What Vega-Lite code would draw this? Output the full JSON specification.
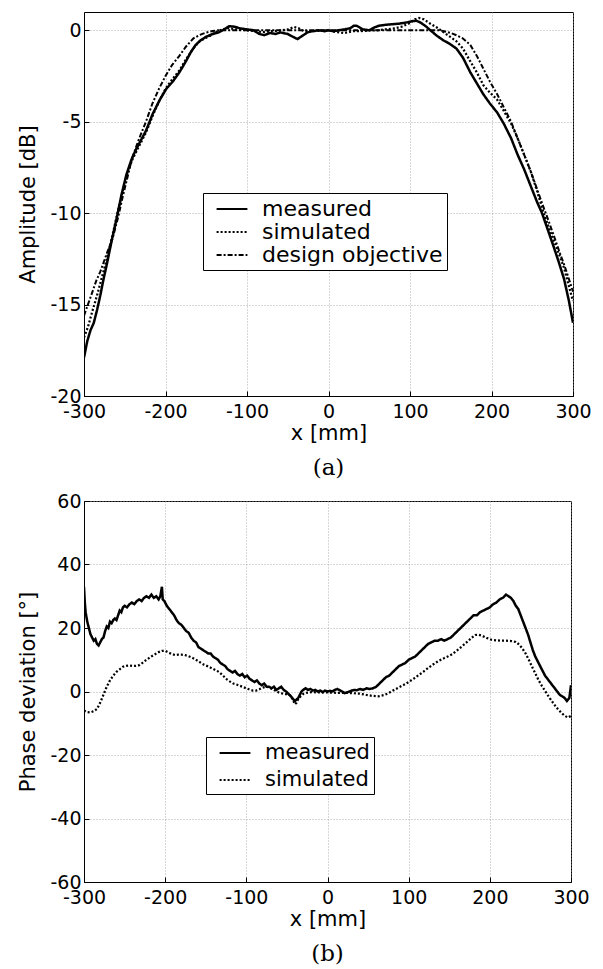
{
  "$schema": "https://vega.github.io/schema/vega-lite/v6.json",
  "background": "white",
  "padding": {"left": 17, "top": 11, "right": 0, "bottom": 0},
  "spacing": 10,
  "config": {
    "view": {"stroke": "black", "strokeWidth": 1},
    "axis": {
      "labelFont": "DejaVu Sans", "labelFontSize": 19, "labelColor": "black",
      "titleFont": "DejaVu Sans", "titleFontSize": 21, "titleFontWeight": "normal", "titleColor": "black",
      "domainColor": "black", "tickColor": "black", "tickSize": -5, "labelPadding": 11,
      "gridColor": "#999", "gridDash": [1, 2], "gridWidth": 0.8
    },
    "axisY": {"labelPadding": 8},
    "title": {"font": "DejaVu Serif", "fontSize": 23, "fontWeight": "normal", "color": "black", "orient": "bottom", "offset": 14},
    "legend": {
      "orient": "none", "title": null, "strokeColor": "black", "fillColor": "white",
      "padding": 4, "symbolType": "M-1.4,0H1.4", "symbolSize": 484, "symbolStrokeWidth": 2,
      "symbolStrokeColor": "black", "symbolFillColor": "transparent", "symbolOffset": 13, "labelFont": "DejaVu Sans", "labelColor": "black", "labelOffset": 18, "labelLimit": 400,
      "labelExpr": "datum.label + '\u00a0\u00a0'"
    }
  },
  "resolve": {"scale": {"strokeDash": "independent"}, "legend": {"strokeDash": "independent"}},
  "datasets": {
    "amp": [
      {"x":-300,"y":-17.9,"s":"measured"},{"x":-296,"y":-17.0,"s":"measured"},{"x":-292,"y":-16.4,"s":"measured"},{"x":-288,"y":-16.0,"s":"measured"},{"x":-284,"y":-15.3,"s":"measured"},{"x":-280,"y":-14.5,"s":"measured"},{"x":-276,"y":-13.6,"s":"measured"},{"x":-272,"y":-12.8,"s":"measured"},{"x":-266,"y":-11.5,"s":"measured"},{"x":-260,"y":-10.3,"s":"measured"},{"x":-254,"y":-9.0,"s":"measured"},{"x":-248,"y":-7.9,"s":"measured"},{"x":-242,"y":-7.1,"s":"measured"},{"x":-236,"y":-6.5,"s":"measured"},{"x":-230,"y":-6.0,"s":"measured"},{"x":-224,"y":-5.5,"s":"measured"},{"x":-216,"y":-4.6,"s":"measured"},{"x":-207,"y":-3.8,"s":"measured"},{"x":-199,"y":-3.2,"s":"measured"},{"x":-191,"y":-2.8,"s":"measured"},{"x":-183,"y":-2.3,"s":"measured"},{"x":-175,"y":-1.7,"s":"measured"},{"x":-169,"y":-1.2,"s":"measured"},{"x":-163,"y":-0.8,"s":"measured"},{"x":-157,"y":-0.55,"s":"measured"},{"x":-150,"y":-0.35,"s":"measured"},{"x":-142,"y":-0.2,"s":"measured"},{"x":-134,"y":-0.1,"s":"measured"},{"x":-128,"y":0.05,"s":"measured"},{"x":-122,"y":0.22,"s":"measured"},{"x":-116,"y":0.2,"s":"measured"},{"x":-108,"y":0.1,"s":"measured"},{"x":-100,"y":0.05,"s":"measured"},{"x":-92,"y":0.0,"s":"measured"},{"x":-85,"y":-0.2,"s":"measured"},{"x":-79,"y":-0.27,"s":"measured"},{"x":-72,"y":-0.15,"s":"measured"},{"x":-65,"y":-0.2,"s":"measured"},{"x":-59,"y":-0.12,"s":"measured"},{"x":-50,"y":-0.2,"s":"measured"},{"x":-44,"y":-0.35,"s":"measured"},{"x":-38,"y":-0.48,"s":"measured"},{"x":-32,"y":-0.3,"s":"measured"},{"x":-26,"y":-0.12,"s":"measured"},{"x":-20,"y":-0.05,"s":"measured"},{"x":-12,"y":0.0,"s":"measured"},{"x":-5,"y":-0.05,"s":"measured"},{"x":0,"y":0.0,"s":"measured"},{"x":6,"y":-0.05,"s":"measured"},{"x":12,"y":0.0,"s":"measured"},{"x":20,"y":0.05,"s":"measured"},{"x":27,"y":0.12,"s":"measured"},{"x":31,"y":0.25,"s":"measured"},{"x":35,"y":0.24,"s":"measured"},{"x":42,"y":0.05,"s":"measured"},{"x":50,"y":0.0,"s":"measured"},{"x":56,"y":0.15,"s":"measured"},{"x":62,"y":0.25,"s":"measured"},{"x":70,"y":0.3,"s":"measured"},{"x":78,"y":0.33,"s":"measured"},{"x":86,"y":0.36,"s":"measured"},{"x":95,"y":0.42,"s":"measured"},{"x":103,"y":0.5,"s":"measured"},{"x":108,"y":0.52,"s":"measured"},{"x":113,"y":0.42,"s":"measured"},{"x":120,"y":0.2,"s":"measured"},{"x":125,"y":0.0,"s":"measured"},{"x":133,"y":-0.3,"s":"measured"},{"x":141,"y":-0.55,"s":"measured"},{"x":149,"y":-0.75,"s":"measured"},{"x":157,"y":-1.0,"s":"measured"},{"x":165,"y":-1.5,"s":"measured"},{"x":174,"y":-2.3,"s":"measured"},{"x":182,"y":-2.9,"s":"measured"},{"x":190,"y":-3.5,"s":"measured"},{"x":198,"y":-4.0,"s":"measured"},{"x":207,"y":-4.5,"s":"measured"},{"x":215,"y":-5.1,"s":"measured"},{"x":224,"y":-5.9,"s":"measured"},{"x":232,"y":-6.8,"s":"measured"},{"x":240,"y":-7.6,"s":"measured"},{"x":248,"y":-8.5,"s":"measured"},{"x":256,"y":-9.4,"s":"measured"},{"x":262,"y":-10.0,"s":"measured"},{"x":269,"y":-10.9,"s":"measured"},{"x":276,"y":-11.8,"s":"measured"},{"x":282,"y":-12.6,"s":"measured"},{"x":289,"y":-13.6,"s":"measured"},{"x":295,"y":-14.8,"s":"measured"},{"x":300,"y":-16.0,"s":"measured"},
      {"x":-300,"y":-16.8,"s":"simulated"},{"x":-295,"y":-16.2,"s":"simulated"},{"x":-290,"y":-15.4,"s":"simulated"},{"x":-284,"y":-14.5,"s":"simulated"},{"x":-278,"y":-13.5,"s":"simulated"},{"x":-272,"y":-12.5,"s":"simulated"},{"x":-265,"y":-11.2,"s":"simulated"},{"x":-258,"y":-9.8,"s":"simulated"},{"x":-252,"y":-8.7,"s":"simulated"},{"x":-246,"y":-7.7,"s":"simulated"},{"x":-240,"y":-7.0,"s":"simulated"},{"x":-232,"y":-6.3,"s":"simulated"},{"x":-224,"y":-5.6,"s":"simulated"},{"x":-216,"y":-4.7,"s":"simulated"},{"x":-208,"y":-3.9,"s":"simulated"},{"x":-200,"y":-3.2,"s":"simulated"},{"x":-192,"y":-2.7,"s":"simulated"},{"x":-183,"y":-2.2,"s":"simulated"},{"x":-175,"y":-1.6,"s":"simulated"},{"x":-166,"y":-1.0,"s":"simulated"},{"x":-158,"y":-0.6,"s":"simulated"},{"x":-150,"y":-0.4,"s":"simulated"},{"x":-145,"y":-0.3,"s":"simulated"},{"x":-138,"y":-0.1,"s":"simulated"},{"x":-130,"y":0.05,"s":"simulated"},{"x":-122,"y":0.12,"s":"simulated"},{"x":-114,"y":0.05,"s":"simulated"},{"x":-100,"y":0.0,"s":"simulated"},{"x":-90,"y":-0.05,"s":"simulated"},{"x":-80,"y":-0.1,"s":"simulated"},{"x":-70,"y":-0.05,"s":"simulated"},{"x":-60,"y":-0.02,"s":"simulated"},{"x":-50,"y":0.05,"s":"simulated"},{"x":-42,"y":0.18,"s":"simulated"},{"x":-36,"y":0.1,"s":"simulated"},{"x":-30,"y":-0.05,"s":"simulated"},{"x":-20,"y":-0.05,"s":"simulated"},{"x":-10,"y":-0.03,"s":"simulated"},{"x":0,"y":0.0,"s":"simulated"},{"x":10,"y":-0.1,"s":"simulated"},{"x":20,"y":-0.15,"s":"simulated"},{"x":30,"y":-0.05,"s":"simulated"},{"x":40,"y":-0.05,"s":"simulated"},{"x":50,"y":0.0,"s":"simulated"},{"x":60,"y":0.0,"s":"simulated"},{"x":70,"y":0.05,"s":"simulated"},{"x":80,"y":0.1,"s":"simulated"},{"x":90,"y":0.2,"s":"simulated"},{"x":100,"y":0.4,"s":"simulated"},{"x":106,"y":0.6,"s":"simulated"},{"x":111,"y":0.67,"s":"simulated"},{"x":117,"y":0.6,"s":"simulated"},{"x":125,"y":0.36,"s":"simulated"},{"x":133,"y":0.15,"s":"simulated"},{"x":141,"y":-0.1,"s":"simulated"},{"x":149,"y":-0.35,"s":"simulated"},{"x":157,"y":-0.6,"s":"simulated"},{"x":165,"y":-1.0,"s":"simulated"},{"x":174,"y":-1.7,"s":"simulated"},{"x":182,"y":-2.3,"s":"simulated"},{"x":190,"y":-3.0,"s":"simulated"},{"x":198,"y":-3.4,"s":"simulated"},{"x":207,"y":-3.8,"s":"simulated"},{"x":215,"y":-4.4,"s":"simulated"},{"x":224,"y":-5.1,"s":"simulated"},{"x":232,"y":-5.9,"s":"simulated"},{"x":240,"y":-6.8,"s":"simulated"},{"x":248,"y":-7.7,"s":"simulated"},{"x":256,"y":-8.8,"s":"simulated"},{"x":264,"y":-10.0,"s":"simulated"},{"x":272,"y":-11.0,"s":"simulated"},{"x":280,"y":-11.9,"s":"simulated"},{"x":289,"y":-13.0,"s":"simulated"},{"x":295,"y":-14.0,"s":"simulated"},{"x":300,"y":-14.8,"s":"simulated"},
      {"x":-300,"y":-15.6,"s":"design objective"},{"x":-292,"y":-14.6,"s":"design objective"},{"x":-285,"y":-13.7,"s":"design objective"},{"x":-280,"y":-13.2,"s":"design objective"},{"x":-272,"y":-12.2,"s":"design objective"},{"x":-265,"y":-11.4,"s":"design objective"},{"x":-258,"y":-10.2,"s":"design objective"},{"x":-253,"y":-9.2,"s":"design objective"},{"x":-247,"y":-8.1,"s":"design objective"},{"x":-241,"y":-7.0,"s":"design objective"},{"x":-233,"y":-6.0,"s":"design objective"},{"x":-224,"y":-5.0,"s":"design objective"},{"x":-216,"y":-4.0,"s":"design objective"},{"x":-208,"y":-3.2,"s":"design objective"},{"x":-200,"y":-2.5,"s":"design objective"},{"x":-192,"y":-1.9,"s":"design objective"},{"x":-183,"y":-1.4,"s":"design objective"},{"x":-175,"y":-0.9,"s":"design objective"},{"x":-166,"y":-0.45,"s":"design objective"},{"x":-158,"y":-0.25,"s":"design objective"},{"x":-150,"y":-0.12,"s":"design objective"},{"x":-142,"y":-0.04,"s":"design objective"},{"x":-136,"y":0,"s":"design objective"},{"x":136,"y":0,"s":"design objective"},{"x":142,"y":-0.05,"s":"design objective"},{"x":150,"y":-0.15,"s":"design objective"},{"x":157,"y":-0.27,"s":"design objective"},{"x":165,"y":-0.45,"s":"design objective"},{"x":174,"y":-0.8,"s":"design objective"},{"x":182,"y":-1.4,"s":"design objective"},{"x":190,"y":-2.1,"s":"design objective"},{"x":198,"y":-2.8,"s":"design objective"},{"x":207,"y":-3.5,"s":"design objective"},{"x":215,"y":-4.2,"s":"design objective"},{"x":224,"y":-5.0,"s":"design objective"},{"x":232,"y":-5.9,"s":"design objective"},{"x":240,"y":-6.8,"s":"design objective"},{"x":248,"y":-7.7,"s":"design objective"},{"x":256,"y":-8.7,"s":"design objective"},{"x":264,"y":-9.7,"s":"design objective"},{"x":269,"y":-10.3,"s":"design objective"},{"x":277,"y":-11.3,"s":"design objective"},{"x":284,"y":-12.2,"s":"design objective"},{"x":289,"y":-12.8,"s":"design objective"},{"x":295,"y":-13.6,"s":"design objective"},{"x":300,"y":-14.3,"s":"design objective"}
    ],
    "phase": [
      {"x":-300,"y":33,"s":"measured"},{"x":-299,"y":28,"s":"measured"},{"x":-298,"y":25,"s":"measured"},{"x":-296,"y":22,"s":"measured"},{"x":-294,"y":20,"s":"measured"},{"x":-292,"y":18,"s":"measured"},{"x":-290,"y":17,"s":"measured"},{"x":-288,"y":16,"s":"measured"},{"x":-286,"y":16.5,"s":"measured"},{"x":-284,"y":15,"s":"measured"},{"x":-282,"y":14.5,"s":"measured"},{"x":-280,"y":15.5,"s":"measured"},{"x":-278,"y":16.5,"s":"measured"},{"x":-276,"y":17,"s":"measured"},{"x":-274,"y":19,"s":"measured"},{"x":-272,"y":20.5,"s":"measured"},{"x":-270,"y":20,"s":"measured"},{"x":-268,"y":22,"s":"measured"},{"x":-266,"y":21.5,"s":"measured"},{"x":-264,"y":22.5,"s":"measured"},{"x":-262,"y":23,"s":"measured"},{"x":-260,"y":22.5,"s":"measured"},{"x":-258,"y":24,"s":"measured"},{"x":-256,"y":25.5,"s":"measured"},{"x":-254,"y":25,"s":"measured"},{"x":-252,"y":26.5,"s":"measured"},{"x":-250,"y":27,"s":"measured"},{"x":-247,"y":26.5,"s":"measured"},{"x":-244,"y":27.5,"s":"measured"},{"x":-241,"y":28,"s":"measured"},{"x":-238,"y":27.5,"s":"measured"},{"x":-235,"y":28.5,"s":"measured"},{"x":-232,"y":29,"s":"measured"},{"x":-229,"y":28.5,"s":"measured"},{"x":-226,"y":29.5,"s":"measured"},{"x":-223,"y":30,"s":"measured"},{"x":-220,"y":29.5,"s":"measured"},{"x":-217,"y":30.5,"s":"measured"},{"x":-214,"y":29.5,"s":"measured"},{"x":-211,"y":30,"s":"measured"},{"x":-208,"y":29,"s":"measured"},{"x":-206,"y":30,"s":"measured"},{"x":-204,"y":33,"s":"measured"},{"x":-203,"y":29,"s":"measured"},{"x":-201,"y":28.5,"s":"measured"},{"x":-198,"y":27,"s":"measured"},{"x":-195,"y":26,"s":"measured"},{"x":-192,"y":25,"s":"measured"},{"x":-189,"y":24,"s":"measured"},{"x":-186,"y":22.5,"s":"measured"},{"x":-183,"y":21.5,"s":"measured"},{"x":-180,"y":21,"s":"measured"},{"x":-177,"y":20,"s":"measured"},{"x":-174,"y":19,"s":"measured"},{"x":-171,"y":18.5,"s":"measured"},{"x":-168,"y":17,"s":"measured"},{"x":-165,"y":16,"s":"measured"},{"x":-162,"y":15.5,"s":"measured"},{"x":-159,"y":14,"s":"measured"},{"x":-156,"y":13.5,"s":"measured"},{"x":-153,"y":13,"s":"measured"},{"x":-150,"y":12.5,"s":"measured"},{"x":-147,"y":12,"s":"measured"},{"x":-144,"y":12,"s":"measured"},{"x":-141,"y":11,"s":"measured"},{"x":-138,"y":10.5,"s":"measured"},{"x":-135,"y":10,"s":"measured"},{"x":-132,"y":9,"s":"measured"},{"x":-129,"y":8.5,"s":"measured"},{"x":-126,"y":8,"s":"measured"},{"x":-123,"y":7,"s":"measured"},{"x":-120,"y":6.5,"s":"measured"},{"x":-117,"y":6,"s":"measured"},{"x":-114,"y":6.5,"s":"measured"},{"x":-111,"y":5.5,"s":"measured"},{"x":-108,"y":5,"s":"measured"},{"x":-105,"y":5.5,"s":"measured"},{"x":-102,"y":4.5,"s":"measured"},{"x":-99,"y":5,"s":"measured"},{"x":-96,"y":4,"s":"measured"},{"x":-93,"y":3.5,"s":"measured"},{"x":-90,"y":3,"s":"measured"},{"x":-87,"y":3.5,"s":"measured"},{"x":-84,"y":2.5,"s":"measured"},{"x":-81,"y":2,"s":"measured"},{"x":-78,"y":2.5,"s":"measured"},{"x":-75,"y":1.5,"s":"measured"},{"x":-72,"y":1.5,"s":"measured"},{"x":-69,"y":1,"s":"measured"},{"x":-66,"y":1.5,"s":"measured"},{"x":-63,"y":0.5,"s":"measured"},{"x":-60,"y":1,"s":"measured"},{"x":-57,"y":1.5,"s":"measured"},{"x":-54,"y":0.5,"s":"measured"},{"x":-51,"y":0,"s":"measured"},{"x":-48,"y":-0.8,"s":"measured"},{"x":-45,"y":-1.5,"s":"measured"},{"x":-42,"y":-2.5,"s":"measured"},{"x":-40,"y":-3,"s":"measured"},{"x":-38,"y":-2.5,"s":"measured"},{"x":-36,"y":-2,"s":"measured"},{"x":-34,"y":-1,"s":"measured"},{"x":-32,"y":0,"s":"measured"},{"x":-30,"y":0.5,"s":"measured"},{"x":-27,"y":1,"s":"measured"},{"x":-24,"y":0.5,"s":"measured"},{"x":-21,"y":0.8,"s":"measured"},{"x":-18,"y":0.3,"s":"measured"},{"x":-15,"y":0.5,"s":"measured"},{"x":-12,"y":0,"s":"measured"},{"x":-9,"y":0.3,"s":"measured"},{"x":-6,"y":-0.2,"s":"measured"},{"x":-3,"y":0.3,"s":"measured"},{"x":0,"y":0,"s":"measured"},{"x":3,"y":0.2,"s":"measured"},{"x":6,"y":0,"s":"measured"},{"x":9,"y":0.5,"s":"measured"},{"x":12,"y":0.8,"s":"measured"},{"x":15,"y":0.4,"s":"measured"},{"x":18,"y":0,"s":"measured"},{"x":21,"y":-0.5,"s":"measured"},{"x":24,"y":-0.3,"s":"measured"},{"x":27,"y":0,"s":"measured"},{"x":30,"y":0.3,"s":"measured"},{"x":33,"y":0.5,"s":"measured"},{"x":36,"y":0.4,"s":"measured"},{"x":40,"y":0.8,"s":"measured"},{"x":44,"y":0.5,"s":"measured"},{"x":48,"y":1,"s":"measured"},{"x":52,"y":0.8,"s":"measured"},{"x":56,"y":1,"s":"measured"},{"x":60,"y":1.5,"s":"measured"},{"x":64,"y":2.5,"s":"measured"},{"x":68,"y":3.5,"s":"measured"},{"x":72,"y":4.5,"s":"measured"},{"x":76,"y":5,"s":"measured"},{"x":80,"y":6,"s":"measured"},{"x":84,"y":7,"s":"measured"},{"x":88,"y":8,"s":"measured"},{"x":92,"y":8.5,"s":"measured"},{"x":96,"y":9,"s":"measured"},{"x":100,"y":10,"s":"measured"},{"x":104,"y":10.5,"s":"measured"},{"x":108,"y":11,"s":"measured"},{"x":112,"y":12,"s":"measured"},{"x":116,"y":13,"s":"measured"},{"x":120,"y":14,"s":"measured"},{"x":124,"y":15,"s":"measured"},{"x":128,"y":15.5,"s":"measured"},{"x":132,"y":16,"s":"measured"},{"x":136,"y":16,"s":"measured"},{"x":140,"y":16.5,"s":"measured"},{"x":144,"y":16,"s":"measured"},{"x":148,"y":16.5,"s":"measured"},{"x":152,"y":17,"s":"measured"},{"x":156,"y":18,"s":"measured"},{"x":160,"y":19,"s":"measured"},{"x":164,"y":20,"s":"measured"},{"x":168,"y":21,"s":"measured"},{"x":172,"y":22,"s":"measured"},{"x":176,"y":23,"s":"measured"},{"x":180,"y":24,"s":"measured"},{"x":184,"y":24,"s":"measured"},{"x":188,"y":25,"s":"measured"},{"x":192,"y":25.5,"s":"measured"},{"x":196,"y":26,"s":"measured"},{"x":200,"y":26.5,"s":"measured"},{"x":204,"y":27.5,"s":"measured"},{"x":208,"y":28,"s":"measured"},{"x":212,"y":29,"s":"measured"},{"x":216,"y":29.5,"s":"measured"},{"x":220,"y":30.5,"s":"measured"},{"x":223,"y":30,"s":"measured"},{"x":226,"y":29.5,"s":"measured"},{"x":229,"y":28.5,"s":"measured"},{"x":232,"y":27,"s":"measured"},{"x":235,"y":26,"s":"measured"},{"x":238,"y":24,"s":"measured"},{"x":241,"y":22,"s":"measured"},{"x":244,"y":20,"s":"measured"},{"x":247,"y":18,"s":"measured"},{"x":250,"y":15.5,"s":"measured"},{"x":253,"y":13,"s":"measured"},{"x":256,"y":11,"s":"measured"},{"x":259,"y":9.5,"s":"measured"},{"x":262,"y":8,"s":"measured"},{"x":265,"y":6.5,"s":"measured"},{"x":268,"y":5,"s":"measured"},{"x":271,"y":4,"s":"measured"},{"x":274,"y":3,"s":"measured"},{"x":277,"y":2,"s":"measured"},{"x":280,"y":1,"s":"measured"},{"x":283,"y":0,"s":"measured"},{"x":286,"y":-1,"s":"measured"},{"x":289,"y":-1.5,"s":"measured"},{"x":292,"y":-2,"s":"measured"},{"x":295,"y":-3,"s":"measured"},{"x":298,"y":-2,"s":"measured"},{"x":299,"y":0,"s":"measured"},{"x":300,"y":2,"s":"measured"},
      {"x":-300,"y":-6,"s":"simulated"},{"x":-296,"y":-6.5,"s":"simulated"},{"x":-292,"y":-6.6,"s":"simulated"},{"x":-288,"y":-6.2,"s":"simulated"},{"x":-284,"y":-5.5,"s":"simulated"},{"x":-280,"y":-3.5,"s":"simulated"},{"x":-276,"y":-1,"s":"simulated"},{"x":-272,"y":1.5,"s":"simulated"},{"x":-268,"y":3.5,"s":"simulated"},{"x":-264,"y":5,"s":"simulated"},{"x":-260,"y":6.2,"s":"simulated"},{"x":-256,"y":7,"s":"simulated"},{"x":-252,"y":7.8,"s":"simulated"},{"x":-248,"y":8.1,"s":"simulated"},{"x":-244,"y":8.2,"s":"simulated"},{"x":-240,"y":8,"s":"simulated"},{"x":-236,"y":8.1,"s":"simulated"},{"x":-232,"y":8.3,"s":"simulated"},{"x":-228,"y":9,"s":"simulated"},{"x":-224,"y":9.8,"s":"simulated"},{"x":-220,"y":10.5,"s":"simulated"},{"x":-216,"y":11.2,"s":"simulated"},{"x":-212,"y":11.8,"s":"simulated"},{"x":-208,"y":12.4,"s":"simulated"},{"x":-204,"y":12.8,"s":"simulated"},{"x":-200,"y":12.8,"s":"simulated"},{"x":-196,"y":12.3,"s":"simulated"},{"x":-192,"y":11.8,"s":"simulated"},{"x":-188,"y":11.5,"s":"simulated"},{"x":-184,"y":11.6,"s":"simulated"},{"x":-180,"y":11.6,"s":"simulated"},{"x":-176,"y":11.5,"s":"simulated"},{"x":-172,"y":11.2,"s":"simulated"},{"x":-168,"y":10.8,"s":"simulated"},{"x":-164,"y":10.3,"s":"simulated"},{"x":-160,"y":9.7,"s":"simulated"},{"x":-156,"y":9,"s":"simulated"},{"x":-152,"y":8.4,"s":"simulated"},{"x":-148,"y":8,"s":"simulated"},{"x":-144,"y":7.5,"s":"simulated"},{"x":-140,"y":7,"s":"simulated"},{"x":-136,"y":6.5,"s":"simulated"},{"x":-132,"y":5.8,"s":"simulated"},{"x":-128,"y":4.8,"s":"simulated"},{"x":-124,"y":3.8,"s":"simulated"},{"x":-120,"y":3.1,"s":"simulated"},{"x":-116,"y":2.5,"s":"simulated"},{"x":-112,"y":2.2,"s":"simulated"},{"x":-108,"y":1.8,"s":"simulated"},{"x":-104,"y":1.4,"s":"simulated"},{"x":-100,"y":1,"s":"simulated"},{"x":-96,"y":0.6,"s":"simulated"},{"x":-92,"y":0.3,"s":"simulated"},{"x":-88,"y":0.3,"s":"simulated"},{"x":-84,"y":0.7,"s":"simulated"},{"x":-80,"y":1.2,"s":"simulated"},{"x":-76,"y":1.5,"s":"simulated"},{"x":-72,"y":1.3,"s":"simulated"},{"x":-68,"y":0.8,"s":"simulated"},{"x":-64,"y":0.2,"s":"simulated"},{"x":-60,"y":-0.3,"s":"simulated"},{"x":-56,"y":-0.6,"s":"simulated"},{"x":-52,"y":-0.8,"s":"simulated"},{"x":-48,"y":-0.8,"s":"simulated"},{"x":-45,"y":-1.5,"s":"simulated"},{"x":-42,"y":-3,"s":"simulated"},{"x":-40,"y":-4,"s":"simulated"},{"x":-38,"y":-3.5,"s":"simulated"},{"x":-36,"y":-2.3,"s":"simulated"},{"x":-33,"y":-1.5,"s":"simulated"},{"x":-30,"y":-0.8,"s":"simulated"},{"x":-26,"y":-0.4,"s":"simulated"},{"x":-20,"y":-0.2,"s":"simulated"},{"x":-10,"y":-0.3,"s":"simulated"},{"x":0,"y":-0.3,"s":"simulated"},{"x":10,"y":-0.4,"s":"simulated"},{"x":20,"y":-0.4,"s":"simulated"},{"x":30,"y":-0.5,"s":"simulated"},{"x":40,"y":-0.7,"s":"simulated"},{"x":48,"y":-1.1,"s":"simulated"},{"x":56,"y":-1.4,"s":"simulated"},{"x":63,"y":-1.5,"s":"simulated"},{"x":70,"y":-1.1,"s":"simulated"},{"x":76,"y":-0.4,"s":"simulated"},{"x":82,"y":0.5,"s":"simulated"},{"x":88,"y":1.3,"s":"simulated"},{"x":94,"y":2.1,"s":"simulated"},{"x":100,"y":3,"s":"simulated"},{"x":106,"y":4,"s":"simulated"},{"x":112,"y":5.1,"s":"simulated"},{"x":118,"y":6.2,"s":"simulated"},{"x":124,"y":7.4,"s":"simulated"},{"x":130,"y":8.5,"s":"simulated"},{"x":136,"y":9.5,"s":"simulated"},{"x":142,"y":10.3,"s":"simulated"},{"x":148,"y":11,"s":"simulated"},{"x":154,"y":11.8,"s":"simulated"},{"x":160,"y":13,"s":"simulated"},{"x":166,"y":14.3,"s":"simulated"},{"x":172,"y":15.6,"s":"simulated"},{"x":178,"y":17,"s":"simulated"},{"x":182,"y":17.8,"s":"simulated"},{"x":186,"y":17.9,"s":"simulated"},{"x":190,"y":17.6,"s":"simulated"},{"x":196,"y":16.9,"s":"simulated"},{"x":202,"y":16.3,"s":"simulated"},{"x":208,"y":16.1,"s":"simulated"},{"x":214,"y":16,"s":"simulated"},{"x":220,"y":16,"s":"simulated"},{"x":226,"y":15.9,"s":"simulated"},{"x":232,"y":15.6,"s":"simulated"},{"x":236,"y":14.8,"s":"simulated"},{"x":240,"y":13.6,"s":"simulated"},{"x":244,"y":12,"s":"simulated"},{"x":248,"y":10,"s":"simulated"},{"x":252,"y":7.8,"s":"simulated"},{"x":256,"y":5.7,"s":"simulated"},{"x":260,"y":3.6,"s":"simulated"},{"x":264,"y":1.8,"s":"simulated"},{"x":268,"y":0.2,"s":"simulated"},{"x":272,"y":-1.4,"s":"simulated"},{"x":276,"y":-2.9,"s":"simulated"},{"x":280,"y":-4.3,"s":"simulated"},{"x":284,"y":-5.6,"s":"simulated"},{"x":288,"y":-6.7,"s":"simulated"},{"x":292,"y":-7.6,"s":"simulated"},{"x":296,"y":-8.2,"s":"simulated"},{"x":300,"y":-7.7,"s":"simulated"}
    ]
  },
  "vconcat": [
    {
      "width": 489, "height": 384,
      "title": "(a)",
      "data": {"name": "amp"},
      "mark": {"type": "line", "color": "black", "clip": true},
      "encoding": {
        "x": {"field": "x", "type": "quantitative", "title": "x [mm]",
              "scale": {"domain": [-300, 300], "nice": false, "zero": false},
              "axis": {"values": [-300, -200, -100, 0, 100, 200, 300], "labelExpr": "'' + datum.value", "titlePadding": 1, "labelFlush": false}},
        "y": {"field": "y", "type": "quantitative", "title": "Amplitude [dB]",
              "scale": {"domain": [-20, 1], "nice": false, "zero": false},
              "axis": {"values": [-20, -15, -10, -5, 0], "labelExpr": "'' + datum.value", "titlePadding": 11}},
        "detail": {"field": "s"},
        "strokeDash": {"field": "s", "type": "nominal",
              "scale": {"domain": ["measured", "simulated", "design objective"], "range": [[1, 0], [2, 2], [5, 2, 2, 2]]},
              "legend": {"legendX": 119, "legendY": 181, "labelFontSize": 22, "rowPadding": 0}},
        "strokeWidth": {"field": "s", "type": "nominal", "legend": null,
              "scale": {"domain": ["measured", "simulated", "design objective"], "range": [2.5, 2, 1.8]}}
      }
    },
    {
      "width": 487, "height": 381,
      "title": "(b)",
      "data": {"name": "phase"},
      "mark": {"type": "line", "color": "black", "clip": true},
      "encoding": {
        "x": {"field": "x", "type": "quantitative", "title": "x [mm]",
              "scale": {"domain": [-300, 300], "nice": false, "zero": false},
              "axis": {"values": [-300, -200, -100, 0, 100, 200, 300], "labelExpr": "'' + datum.value", "titlePadding": 1, "labelFlush": false}},
        "y": {"field": "y", "type": "quantitative", "title": "Phase deviation [°]",
              "scale": {"domain": [-60, 60], "nice": false, "zero": false},
              "axis": {"values": [-60, -40, -20, 0, 20, 40, 60], "labelExpr": "'' + datum.value", "titlePadding": 11}},
        "detail": {"field": "s"},
        "strokeDash": {"field": "s", "type": "nominal",
              "scale": {"domain": ["measured", "simulated"], "range": [[1, 0], [2, 2]]},
              "legend": {"legendX": 122, "legendY": 236, "labelFontSize": 21, "rowPadding": 5}},
        "strokeWidth": {"field": "s", "type": "nominal", "legend": null,
              "scale": {"domain": ["measured", "simulated"], "range": [2.5, 2.2]}}
      }
    }
  ]
}
